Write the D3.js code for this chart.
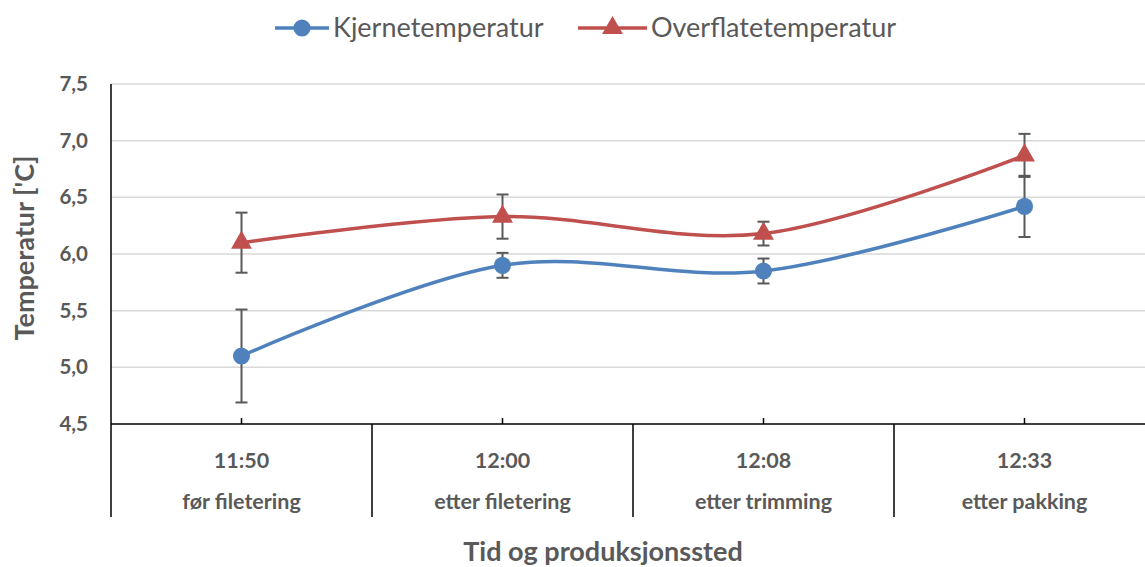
<!DOCTYPE html>
<html>
<head>
<meta charset="utf-8">
<script src="https://cdn.jsdelivr.net/npm/d3@7"></script>
<style>
  body { margin: 0; background: #fff; }
  text { font-family: Lato, "Open Sans", sans-serif; fill: #595959; }
</style>
</head>
<body>
<div id="chart-area"></div>
<script>
const times = ['11:50', '12:00', '12:08', '12:33'];
const places = ['før filetering', 'etter filetering', 'etter trimming', 'etter pakking'];
const kjerne = [5.10, 5.90, 5.85, 6.42];
const kjerneErr = [0.41, 0.11, 0.11, 0.27];
const overflate = [6.10, 6.33, 6.18, 6.87];
const overflateErr = [0.265, 0.195, 0.105, 0.19];
const yTicks = [4.5, 5.0, 5.5, 6.0, 6.5, 7.0, 7.5];

const chartSize = { width: 1145, height: 567 };
const plot = { left: 111, right: 1155, top: 84, bottom: 424 };
const blue = '#4f81bd';
const red = '#c0504d';

const svg = d3.select('#chart-area').append('svg')
  .attr('width', chartSize.width)
  .attr('height', chartSize.height);

const x = d3.scaleBand().domain(times).range([plot.left, plot.right]);
const y = d3.scaleLinear().domain([4.5, 7.5]).range([plot.bottom, plot.top]);
const cx = t => x(t) + x.bandwidth() / 2;
const fmt = v => d3.format('.1f')(v).replace('.', ',');

// grid lines
svg.append('g').selectAll('line')
  .data(yTicks.slice(1))
  .join('line')
  .attr('x1', plot.left).attr('x2', plot.right)
  .attr('y1', d => y(d)).attr('y2', d => y(d))
  .attr('stroke', '#d9d9d9').attr('stroke-width', 1.5);

// y tick labels
svg.append('g').selectAll('text')
  .data(yTicks)
  .join('text')
  .attr('x', 88).attr('y', d => y(d) + 7)
  .attr('text-anchor', 'end')
  .attr('font-weight', 'bold')
  .attr('font-size', 20.5)
  .text(fmt);

// axes
const labelBottom = 517;
svg.append('line')
  .attr('x1', plot.left).attr('x2', plot.left)
  .attr('y1', plot.top).attr('y2', labelBottom)
  .attr('stroke', '#000').attr('stroke-width', 1.5);
svg.append('line')
  .attr('x1', plot.left).attr('x2', plot.right)
  .attr('y1', plot.bottom).attr('y2', plot.bottom)
  .attr('stroke', '#000').attr('stroke-width', 1.5);

// category separators
svg.append('g').selectAll('line')
  .data(times.slice(1))
  .join('line')
  .attr('x1', d => x(d)).attr('x2', d => x(d))
  .attr('y1', plot.bottom).attr('y2', labelBottom)
  .attr('stroke', '#000').attr('stroke-width', 1.5);

// small ticks at centres
svg.append('g').selectAll('line')
  .data(times)
  .join('line')
  .attr('x1', cx).attr('x2', cx)
  .attr('y1', plot.bottom - 6).attr('y2', plot.bottom)
  .attr('stroke', '#000').attr('stroke-width', 1.5);

// x labels
svg.append('g').selectAll('text')
  .data(times)
  .join('text')
  .attr('x', cx).attr('y', 468)
  .attr('text-anchor', 'middle')
  .attr('font-weight', 'bold').attr('font-size', 21.5)
  .text(d => d);
svg.append('g').selectAll('text')
  .data(places)
  .join('text')
  .attr('x', (d, i) => cx(times[i])).attr('y', 509)
  .attr('text-anchor', 'middle')
  .attr('font-weight', 'bold').attr('font-size', 21.5)
  .text(d => d);

// axis titles
svg.append('text')
  .attr('x', 603).attr('y', 561)
  .attr('text-anchor', 'middle')
  .attr('font-weight', 'bold').attr('font-size', 27)
  .text('Tid og produksjonssted');
svg.append('text')
  .attr('transform', 'translate(34,248) rotate(-90)')
  .attr('text-anchor', 'middle')
  .attr('font-weight', 'bold').attr('font-size', 27)
  .text("Temperatur ['C]");

const series = [
  { name: 'Kjernetemperatur', values: kjerne, err: kjerneErr, color: blue, symbol: d3.symbolCircle, size: 230 },
  { name: 'Overflatetemperatur', values: overflate, err: overflateErr, color: red, symbol: d3.symbolTriangle, size: 190 }
];

const line = d3.line()
  .x((d, i) => cx(times[i]))
  .y(d => y(d))
  .curve(d3.curveCardinal.tension(0));

series.forEach(s => {
  svg.append('path')
    .attr('d', line(s.values))
    .attr('fill', 'none')
    .attr('stroke', s.color)
    .attr('stroke-width', 3.5);
});

// error bars
series.forEach(s => {
  const g = svg.append('g').attr('stroke', '#595959').attr('stroke-width', 2);
  s.values.forEach((v, i) => {
    const px = cx(times[i]);
    const lo = y(v - s.err[i]);
    const hi = y(v + s.err[i]);
    g.append('line').attr('x1', px).attr('x2', px).attr('y1', lo).attr('y2', hi);
    g.append('line').attr('x1', px - 6).attr('x2', px + 6).attr('y1', lo).attr('y2', lo);
    g.append('line').attr('x1', px - 6).attr('x2', px + 6).attr('y1', hi).attr('y2', hi);
  });
});

// markers
series.forEach(s => {
  svg.append('g').selectAll('path')
    .data(s.values)
    .join('path')
    .attr('transform', (d, i) => `translate(${cx(times[i])},${y(d)})`)
    .attr('d', d3.symbol().type(s.symbol).size(s.size))
    .attr('fill', s.color);
});

// legend
const legendItems = [
  { x: 275, textX: 333 },
  { x: 578, textX: 651 }
];
series.forEach((s, i) => {
  const lx = legendItems[i].x;
  const lg = svg.append('g');
  const w = legendItems[i].textX - lx - 4;
  lg.append('line')
    .attr('x1', lx).attr('x2', lx + w)
    .attr('y1', 28).attr('y2', 28)
    .attr('stroke', s.color).attr('stroke-width', 3.5);
  lg.append('path')
    .attr('transform', `translate(${lx + w / 2},28)`)
    .attr('d', d3.symbol().type(s.symbol).size(s.size))
    .attr('fill', s.color);
  lg.append('text')
    .attr('x', legendItems[i].textX).attr('y', 37)
    .attr('font-size', 27)
    .text(s.name);
});
</script>
</body>
</html>
